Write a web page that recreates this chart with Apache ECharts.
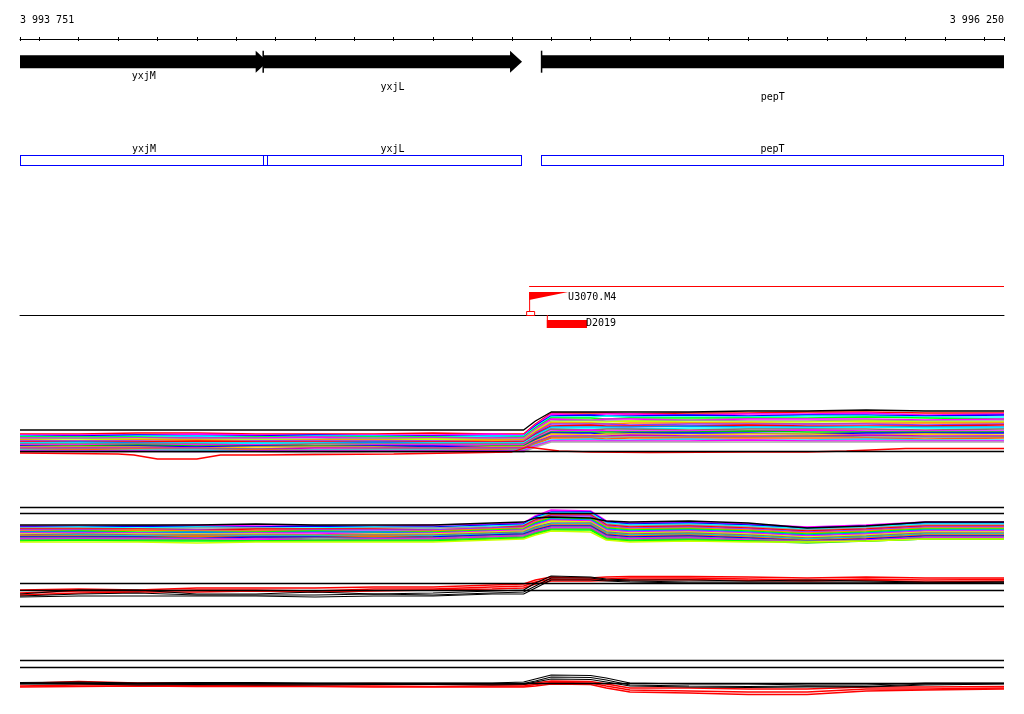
<!DOCTYPE html>
<html><head><meta charset="utf-8">
<script src="https://cdn.jsdelivr.net/npm/echarts@6/dist/echarts.min.js"></script>
<style>html,body{margin:0;padding:0;background:#fff}#c{width:1024px;height:714px}</style>
</head><body><div id="c"></div>
<script>
// ---------- view & ruler ----------
const VIEW_MIN = 3993751, VIEW_MAX = 3996250;
const rulerLabelValues = [3993751, 3996250];
const rulerTickStep = 100;

// ---------- genes ----------
const geneNames  = ['yxjM', 'yxjL', 'pepT'];
const geneStarts = [3993420, 3994368, 3995075];
const geneEnds   = [3994380, 3995026, 3996700];

// ---------- features (flags) ----------
const flagNames   = ['U3070.M4', 'D2019'];
const flagStarts  = [3995044, 3995089];
const flagEnds    = [3995143, 3995191];
const flagStrands = ['+', '-'];
const regionStart = 3995044, regionEnd = 3996250;

// ---------- probe positions ----------
const probePos = [3993751,3993900,3994050,3994200,3994350,3994500,3994650,3994800,3994950,3995030,3995060,3995100,3995200,3995240,3995300,3995450,3995600,3995750,3995900,3996050,3996250];

// ---------- track 1 ----------
const T1_top = [11.0,11.0,11.0,11.0,11.0,11.0,11.0,11.0,11.0,11.0,11.9,12.8,12.8,12.8,12.8,12.8,12.9,12.9,13.0,12.9,12.9];
const T1_01 = [10.6,10.6,10.7,10.7,10.6,10.6,10.6,10.7,10.6,10.6,11.6,12.7,12.7,12.7,12.6,12.7,12.7,12.8,12.8,12.7,12.7];
const T1_02 = [10.5,10.5,10.5,10.6,10.5,10.5,10.5,10.5,10.6,10.5,11.5,12.6,12.5,12.6,12.6,12.5,12.6,12.6,12.7,12.5,12.6];
const T1_03 = [10.4,10.4,10.5,10.4,10.4,10.5,10.4,10.4,10.4,10.4,11.4,12.4,12.5,12.4,12.4,12.5,12.4,12.5,12.5,12.4,12.5];
const T1_04 = [10.4,10.3,10.4,10.4,10.3,10.4,10.4,10.3,10.4,10.4,11.3,12.3,12.3,12.4,12.3,12.3,12.3,12.4,12.4,12.3,12.3];
const T1_05 = [10.3,10.3,10.3,10.2,10.3,10.3,10.3,10.3,10.2,10.3,11.2,12.2,12.2,12.1,12.2,12.2,12.2,12.2,12.3,12.2,12.1];
const T1_06 = [10.2,10.2,10.2,10.2,10.2,10.3,10.2,10.2,10.2,10.2,11.1,12.1,12.0,12.1,12.1,12.0,12.1,12.1,12.1,12.0,12.1];
const T1_07 = [10.1,10.2,10.1,10.1,10.1,10.1,10.2,10.1,10.1,10.1,11.0,11.9,12.0,11.9,11.9,12.0,11.9,11.9,12.0,11.9,11.9];
const T1_08 = [10.0,10.0,10.1,10.0,10.0,10.0,10.0,10.1,10.0,10.0,10.9,11.8,11.8,11.8,11.9,11.8,11.8,11.8,11.9,11.8,11.8];
const T1_09 = [10.0,9.9,10.0,10.0,9.9,10.0,10.0,9.9,10.0,10.0,10.8,11.7,11.7,11.6,11.7,11.7,11.7,11.6,11.7,11.7,11.7];
const T1_10 = [9.9,9.9,9.9,9.8,9.9,9.9,9.9,9.9,9.8,9.9,10.7,11.6,11.6,11.6,11.5,11.6,11.6,11.6,11.6,11.5,11.6];
const T1_11 = [9.8,9.8,9.8,9.9,9.8,9.8,9.8,9.8,9.8,9.8,10.6,11.4,11.5,11.4,11.4,11.4,11.5,11.4,11.4,11.4,11.5];
const T1_12 = [9.7,9.8,9.7,9.7,9.7,9.7,9.8,9.7,9.7,9.7,10.5,11.3,11.3,11.3,11.3,11.4,11.3,11.3,11.3,11.3,11.3];
const T1_13 = [9.7,9.7,9.6,9.7,9.7,9.7,9.6,9.7,9.7,9.7,10.4,11.2,11.2,11.2,11.1,11.2,11.2,11.2,11.3,11.2,11.2];
const T1_14 = [9.6,9.6,9.6,9.6,9.5,9.6,9.6,9.6,9.6,9.6,10.3,11.1,11.0,11.1,11.1,11.0,11.1,11.1,11.1,11.0,11.1];
const T1_15 = [9.5,9.5,9.5,9.5,9.5,9.4,9.5,9.5,9.5,9.5,10.2,10.9,11.0,10.9,10.9,10.9,10.9,11.0,10.9,10.9,10.9];
const T1_16 = [9.4,9.4,9.5,9.4,9.4,9.4,9.4,9.3,9.4,9.4,10.1,10.8,10.8,10.8,10.8,10.8,10.9,10.8,10.8,10.8,10.8];
const T1_17 = [9.4,9.3,9.4,9.3,9.4,9.3,9.4,9.4,9.3,9.3,10.0,10.7,10.7,10.6,10.7,10.7,10.7,10.6,10.7,10.7,10.7];
const T1_18 = [9.3,9.3,9.3,9.2,9.3,9.3,9.3,9.2,9.3,9.3,9.9,10.6,10.5,10.6,10.6,10.5,10.6,10.6,10.5,10.6,10.5];
const T1_19 = [9.2,9.2,9.2,9.2,9.1,9.2,9.2,9.2,9.2,9.2,9.8,10.4,10.4,10.4,10.5,10.4,10.4,10.4,10.5,10.4,10.4];
const T1_20 = [9.1,9.1,9.1,9.1,9.1,9.0,9.1,9.1,9.1,9.1,9.7,10.3,10.3,10.3,10.3,10.3,10.3,10.4,10.3,10.3,10.3];
const T1_21 = [9.0,9.0,9.1,9.0,9.0,9.0,9.0,9.0,9.0,9.0,9.6,10.2,10.2,10.1,10.2,10.2,10.2,10.2,10.2,10.1,10.2];
const T1_22 = [9.0,8.9,9.0,9.0,8.9,9.0,9.0,9.0,8.9,9.0,9.5,10.0,10.1,10.0,10.0,10.1,10.0,10.0,10.1,10.0,10.0];
const T1_23 = [8.9,8.9,8.9,8.8,8.9,8.9,8.9,8.9,8.9,8.9,9.4,9.9,9.9,9.9,9.9,9.9,10.0,9.9,9.9,9.9,9.9];
const T1_24 = [8.8,8.8,8.8,8.8,8.8,8.7,8.8,8.8,8.8,8.8,9.3,9.8,9.8,9.8,9.8,9.8,9.8,9.8,9.8,9.8,9.8];
const T1_lowPos = [3993751,3994000,3994040,3994070,3994100,3994200,3994230,3994260,3994350,3994700,3995000,3995040,3995080,3995120,3995200,3995350,3995600,3995750,3995850,3996000,3996250];
const T1_low = [8.7,8.6,8.5,8.3,8.1,8.1,8.3,8.5,8.5,8.6,8.8,9.3,9.1,8.9,8.8,8.75,8.8,8.8,8.9,9.15,9.15];
const T1_refLines = [8.83];
const T1_colors = ['#ff0000','#ff00ff','#0000ff','#00ffff','#00ff00','#ff00ff','#999999','#ccff00','#ff8800','#9933ff','#ff0000','#0088ff','#00ffff','#996666','#ff00ff','#00cc00','#0000ff','#ffcc00','#cc00cc','#808080','#ff6600','#33ccff','#ff00ff','#aaaaaa'];

// ---------- track 2 ----------
const T2_black = [9.5,9.5,9.5,9.5,9.6,9.5,9.5,9.5,9.7,9.8,10.2,10.3,10.2,9.9,9.8,9.9,9.7,9.2,9.4,9.8,9.8];
const T2_01 = [9.4,9.4,9.4,9.5,9.4,9.4,9.4,9.5,9.6,9.7,10.4,11.0,10.9,9.9,9.7,9.8,9.6,9.3,9.5,9.8,9.8];
const T2_02 = [9.3,9.3,9.4,9.3,9.3,9.4,9.3,9.3,9.5,9.6,10.3,10.8,10.8,9.8,9.6,9.7,9.5,9.2,9.4,9.7,9.7];
const T2_03 = [9.2,9.3,9.2,9.3,9.2,9.2,9.3,9.2,9.4,9.5,10.2,10.7,10.7,9.7,9.5,9.6,9.4,9.1,9.3,9.6,9.6];
const T2_04 = [9.2,9.2,9.1,9.2,9.2,9.1,9.2,9.2,9.3,9.4,10.1,10.6,10.6,9.6,9.4,9.5,9.3,9.0,9.2,9.5,9.5];
const T2_05 = [9.1,9.1,9.1,9.0,9.1,9.1,9.1,9.0,9.2,9.4,10.0,10.5,10.5,9.5,9.3,9.4,9.2,8.9,9.1,9.4,9.4];
const T2_06 = [9.0,9.0,9.0,9.0,8.9,9.0,9.0,9.0,9.2,9.3,9.9,10.4,10.4,9.4,9.2,9.3,9.1,8.8,9.0,9.3,9.3];
const T2_07 = [8.9,8.9,9.0,8.9,8.9,8.9,8.8,8.9,9.1,9.2,9.8,10.3,10.2,9.3,9.1,9.2,9.0,8.7,8.9,9.2,9.2];
const T2_08 = [8.8,8.9,8.8,8.8,8.8,8.9,8.8,8.8,9.0,9.1,9.7,10.2,10.1,9.2,9.0,9.1,8.9,8.6,8.8,9.1,9.1];
const T2_09 = [8.8,8.8,8.7,8.8,8.7,8.8,8.8,8.7,8.9,9.0,9.6,10.1,10.0,9.1,8.9,9.0,8.8,8.5,8.7,9.0,9.0];
const T2_10 = [8.7,8.7,8.7,8.6,8.7,8.7,8.6,8.7,8.9,9.0,9.5,10.0,9.9,9.0,8.8,8.9,8.7,8.4,8.6,8.9,8.9];
const T2_11 = [8.6,8.6,8.6,8.6,8.6,8.5,8.6,8.6,8.8,8.9,9.4,9.9,9.8,8.9,8.7,8.8,8.6,8.3,8.5,8.8,8.8];
const T2_12 = [8.5,8.6,8.5,8.5,8.5,8.5,8.5,8.5,8.7,8.8,9.3,9.7,9.7,8.8,8.6,8.7,8.5,8.2,8.4,8.7,8.7];
const T2_13 = [8.4,8.5,8.4,8.4,8.4,8.4,8.4,8.4,8.6,8.7,9.2,9.6,9.6,8.7,8.5,8.6,8.4,8.1,8.3,8.6,8.6];
const T2_14 = [8.4,8.4,8.3,8.4,8.3,8.3,8.4,8.3,8.5,8.6,9.1,9.5,9.5,8.6,8.4,8.5,8.3,8.0,8.2,8.5,8.5];
const T2_15 = [8.3,8.3,8.3,8.2,8.3,8.3,8.2,8.3,8.5,8.6,9.0,9.4,9.4,8.5,8.3,8.4,8.2,7.9,8.1,8.4,8.4];
const T2_16 = [8.2,8.2,8.2,8.2,8.1,8.2,8.2,8.2,8.4,8.5,8.9,9.3,9.3,8.4,8.2,8.3,8.1,7.9,8.0,8.3,8.3];
const T2_17 = [8.1,8.1,8.1,8.1,8.1,8.0,8.1,8.1,8.3,8.4,8.8,9.2,9.2,8.3,8.1,8.2,8.0,7.8,8.0,8.2,8.2];
const T2_18 = [8.0,8.0,8.0,8.0,7.9,8.0,8.0,8.0,8.2,8.3,8.7,9.1,9.1,8.2,8.0,8.1,7.9,7.7,7.9,8.1,8.1];
const T2_19 = [7.9,8.0,7.9,7.9,7.9,7.9,7.9,7.9,8.1,8.2,8.6,9.0,9.0,8.1,7.9,8.0,7.9,7.8,7.9,8.1,8.1];
const T2_20 = [7.8,7.8,7.8,7.7,7.8,7.8,7.8,7.8,8.0,8.1,8.5,8.9,8.8,8.0,7.8,7.9,7.8,7.8,7.9,8.1,8.1];
const T2_refLines = [11.27, 10.67];
const T2_colors = ['#ff00ff','#0000ff','#00ffff','#999999','#ff0000','#9933ff','#ff8800','#00ff00','#0088ff','#ff00ff','#ccff00','#996666','#00cccc','#ff6600','#0000ff','#808080','#ff00ff','#33cc33','#00ff00','#ccff00'];

// ---------- track 2b ----------
const T2b_red1 = [9.0,9.1,9.0,9.2,9.2,9.2,9.3,9.3,9.5,9.6,10.0,10.3,10.2,10.3,10.35,10.35,10.3,10.2,10.3,10.2,10.2];
const T2b_red2 = [8.7,8.9,8.9,9.0,9.0,8.9,9.1,9.1,9.3,9.4,9.8,10.1,10.05,10.1,10.2,10.2,10.1,10.0,10.1,10.0,10.05];
const T2b_red3 = [8.5,8.7,8.8,8.8,8.9,8.8,8.9,9.0,9.1,9.2,9.6,9.9,9.9,9.95,10.0,10.05,9.95,9.9,10.0,9.8,9.9];
const T2b_blk1 = [8.6,9.0,9.0,8.6,8.6,8.8,8.6,8.7,8.9,9.0,9.7,10.4,10.3,10.1,10.0,10.0,9.9,10.0,9.9,9.8,9.8];
const T2b_blk2 = [8.4,8.6,8.7,8.5,8.5,8.5,8.6,8.5,8.7,8.8,9.4,10.2,10.2,10.0,9.9,9.8,9.8,9.8,9.8,9.7,9.8];
const T2b_blk3 = [8.3,8.4,8.4,8.4,8.4,8.3,8.4,8.4,8.6,8.6,9.2,10.0,10.0,9.9,9.8,9.7,9.7,9.7,9.7,9.7,9.7];
const T2b_refLines = [9.67, 8.97, 7.4];

// ---------- track 3 ----------
const T3_blk1 = [8.75,8.8,8.7,8.75,8.75,8.7,8.7,8.7,8.7,8.8,9.1,9.5,9.45,9.2,8.7,8.6,8.6,8.5,8.5,8.7,8.7];
const T3_blk2 = [8.65,8.7,8.6,8.6,8.6,8.6,8.6,8.6,8.6,8.65,8.9,9.3,9.25,9.0,8.5,8.4,8.35,8.4,8.35,8.6,8.65];
const T3_blk3 = [8.6,8.6,8.5,8.55,8.5,8.5,8.55,8.55,8.5,8.55,8.8,9.1,9.05,8.8,8.4,8.3,8.25,8.3,8.3,8.5,8.6];
const T3_red1 = [8.65,8.85,8.7,8.7,8.6,8.6,8.65,8.6,8.55,8.55,8.7,8.9,8.85,8.6,8.2,8.2,8.1,8.1,8.3,8.3,8.35];
const T3_red2 = [8.4,8.5,8.5,8.45,8.45,8.4,8.4,8.35,8.4,8.4,8.55,8.75,8.7,8.4,8.0,7.9,7.8,7.8,8.1,8.1,8.2];
const T3_red3 = [8.3,8.35,8.4,8.35,8.35,8.35,8.3,8.3,8.3,8.3,8.4,8.6,8.55,8.2,7.8,7.7,7.55,7.55,7.9,8.0,8.1];
const T3_refLines = [10.97, 10.27, 8.67];

// ---------- build ----------
const FONT = '"DejaVu Sans Mono", monospace';
const BOX_BLUE = '#0000ff';
const rulerTicks = [VIEW_MIN];
for (let v = Math.ceil(VIEW_MIN / rulerTickStep) * rulerTickStep; v < VIEW_MAX; v += rulerTickStep) rulerTicks.push(v);
rulerTicks.push(VIEW_MAX);
const fmtPos = v => String(v).replace(/\B(?=(\d{3})+(?!\d))/g, ' ');

const GL = 20, GR = 20;
const grids = [
  {left: GL, right: GR, top: 38, height: 1},     // 0 ruler
  {left: GL, right: GR, top: 38, height: 47.4},  // 1 gene arrows
  {left: GL, right: GR, top: 155, height: 11},   // 2 gene boxes
  {left: GL, right: GR, top: 285, height: 60},   // 3 features
  {left: GL, right: GR, top: 400, height: 70},   // 4 track 1
  {left: GL, right: GR, top: 500, height: 50},   // 5 track 2
  {left: GL, right: GR, top: 570, height: 40},   // 6 track 2b
  {left: GL, right: GR, top: 650, height: 50}    // 7 track 3
];
const hiddenX = g => ({type: 'value', gridIndex: g, min: VIEW_MIN, max: VIEW_MAX, show: false});
const xAxes = [
  {type: 'value', gridIndex: 0, position: 'top', min: VIEW_MIN, max: VIEW_MAX,
   axisLine: {show: true, lineStyle: {color: '#000', width: 1}},
   axisTick: {show: true, length: 2, inside: false, customValues: rulerTicks, lineStyle: {color: '#000', width: 1}},
   axisLabel: {show: true, customValues: rulerLabelValues, formatter: v => fmtPos(v), color: '#000',
     fontFamily: FONT, fontSize: 10, margin: 13, alignMinLabel: 'left', alignMaxLabel: 'right'},
   splitLine: {show: false}},
  {type: 'value', gridIndex: 0, position: 'bottom', min: VIEW_MIN, max: VIEW_MAX,
   axisLine: {show: false},
   axisTick: {show: true, length: 2, inside: false, customValues: rulerTicks, lineStyle: {color: '#000', width: 1}},
   axisLabel: {show: false}, splitLine: {show: false}},
  hiddenX(1), hiddenX(2),
  {type: 'value', gridIndex: 3, min: VIEW_MIN, max: VIEW_MAX, show: true,
   axisLine: {show: true, onZero: true, lineStyle: {color: '#000', width: 1}},
   axisTick: {show: false}, axisLabel: {show: false}, splitLine: {show: false}},
  hiddenX(4), hiddenX(5), hiddenX(6), hiddenX(7)
];
const yRange = [[0,1],[-1,1],[0,1],[-1,1],[7,14],[7,12],[7,11],[7,12]];
const yAxes = yRange.map((r, g) => ({type: 'value', gridIndex: g, min: r[0], max: r[1], show: false, splitLine: {show: false}}));

const series = [];

// gene arrows
series.push({
  type: 'custom', xAxisIndex: 2, yAxisIndex: 1, silent: true, animation: false,
  data: geneNames.map((n, i) => [geneStarts[i], geneEnds[i], i]),
  renderItem(params, api) {
    const i = api.value(2);
    const a = api.coord([api.value(0), 0]), b = api.coord([api.value(1), 0]);
    const cs = params.coordSys, L = cs.x, R = cs.x + cs.width;
    const x0 = Math.max(a[0], L), x1 = Math.min(b[0], R), cy = a[1];
    const hl = 12, bh = 6.5, hh = 11;
    const ch = [];
    if (b[0] <= R + 0.5) {
      ch.push({type: 'polygon', shape: {points: [[x0, cy - bh], [x1 - hl, cy - bh], [x1 - hl, cy - hh], [x1, cy], [x1 - hl, cy + hh], [x1 - hl, cy + bh], [x0, cy + bh]]}, style: {fill: '#000'}});
    } else {
      ch.push({type: 'rect', shape: {x: x0, y: cy - bh, width: x1 - x0, height: 2 * bh}, style: {fill: '#000'}});
    }
    if (a[0] >= L - 0.5) ch.push({type: 'rect', shape: {x: a[0] - 0.5, y: cy - hh, width: 1.5, height: 2 * hh}, style: {fill: '#000'}});
    ch.push({type: 'text', style: {text: geneNames[i], x: (x0 + x1) / 2, y: cy + 15 + i * 10.5, align: 'center', verticalAlign: 'middle', fill: '#000', font: '10px ' + FONT}});
    return {type: 'group', children: ch};
  }
});

// gene boxes: four blue edges per gene, as filled 1px rects
series.push({
  type: 'custom', xAxisIndex: 3, yAxisIndex: 2, silent: true, animation: false,
  itemStyle: {color: BOX_BLUE},
  data: geneNames.map((n, i) => [geneStarts[i], geneEnds[i], i]),
  renderItem(params, api) {
    const i = api.value(2);
    const a = api.coord([api.value(0), 1]), b = api.coord([api.value(1), 0]);
    const cs = params.coordSys, L = cs.x, R = cs.x + cs.width;
    const x0 = Math.round(Math.max(a[0], L)), x1 = Math.round(Math.min(b[0], R));
    const y0 = Math.round(a[1]), y1 = Math.round(b[1]);
    const f = {fill: BOX_BLUE};
    return {type: 'group', children: [
      {type: 'rect', shape: {x: x0, y: y0, width: x1 - x0, height: 1}, style: f},
      {type: 'rect', shape: {x: x0, y: y1 - 1, width: x1 - x0, height: 1}, style: f},
      {type: 'rect', shape: {x: x0, y: y0, width: 1, height: y1 - y0}, style: f},
      {type: 'rect', shape: {x: x1 - 1, y: y0, width: 1, height: y1 - y0}, style: f},
      {type: 'text', style: {text: geneNames[i], x: (x0 + x1) / 2, y: a[1] - 5.5, align: 'center', verticalAlign: 'middle', fill: '#000', font: '10px ' + FONT}}
    ]};
  }
});

// region line
series.push({
  type: 'custom', xAxisIndex: 4, yAxisIndex: 3, silent: true, animation: false,
  data: [[regionStart, regionEnd]],
  renderItem(params, api) {
    const a = api.coord([api.value(0), 0]), b = api.coord([api.value(1), 0]);
    return {type: 'rect', shape: {x: a[0], y: a[1] - 29, width: b[0] - a[0], height: 1}, style: {fill: '#ff0000'}};
  }
});

// flags
series.push({
  type: 'custom', xAxisIndex: 4, yAxisIndex: 3, silent: true, animation: false, z: 3,
  data: flagNames.map((n, i) => [flagStarts[i], flagEnds[i], i]),
  renderItem(params, api) {
    const i = api.value(2);
    const a = api.coord([api.value(0), 0]), b = api.coord([api.value(1), 0]);
    const p = a[0], pe = b[0], cy = a[1];
    const red = '#ff0000';
    if (flagStrands[i] === '+') {
      return {type: 'group', children: [
        {type: 'polygon', shape: {points: [[p, cy - 23], [pe, cy - 23], [p, cy - 15]]}, style: {fill: red}},
        {type: 'rect', shape: {x: p, y: cy - 23, width: 1, height: 20}, style: {fill: red}},
        {type: 'rect', shape: {x: p - 2.5, y: cy - 3.5, width: 8, height: 4}, style: {fill: 'rgba(0,0,0,0)', stroke: red, lineWidth: 1}},
        {type: 'text', style: {text: flagNames[i], x: pe, y: cy - 17.5, align: 'left', verticalAlign: 'middle', fill: '#000', font: '10px ' + FONT}}
      ]};
    }
    return {type: 'group', children: [
      {type: 'rect', shape: {x: p, y: cy, width: 1, height: 13}, style: {fill: red}},
      {type: 'rect', shape: {x: p, y: cy + 5, width: pe - p, height: 8}, style: {fill: red}},
      {type: 'text', style: {text: flagNames[i], x: pe - 1, y: cy + 8.5, align: 'left', verticalAlign: 'middle', fill: '#000', font: '10px ' + FONT}}
    ]};
  }
});

function lineSeries(ax, pos, vals, color, width, refLines) {
  const s = {
    type: 'line', xAxisIndex: ax, yAxisIndex: ax - 1, silent: true, animation: false,
    symbol: 'none', showSymbol: false, clip: true,
    data: pos.map((x, i) => [x, vals[i]]),
    lineStyle: {color: color, width: width}
  };
  if (refLines) {
    s.markLine = {silent: true, symbol: 'none', animation: false, label: {show: false},
      lineStyle: {color: '#000', width: 1.3, type: 'solid'},
      data: refLines.map(v => ({yAxis: v}))};
  }
  return s;
}

// track 1
const T1_lines = [T1_01,T1_02,T1_03,T1_04,T1_05,T1_06,T1_07,T1_08,T1_09,T1_10,T1_11,T1_12,T1_13,T1_14,T1_15,T1_16,T1_17,T1_18,T1_19,T1_20,T1_21,T1_22,T1_23,T1_24];
T1_lines.forEach((v, k) => series.push(lineSeries(5, probePos, v, T1_colors[k], 1.5)));
series.push(lineSeries(5, T1_lowPos, T1_low, '#ff0000', 1.3));
series.push(lineSeries(5, probePos, T1_top, '#000000', 1.4, T1_refLines));

// track 2
const T2_lines = [T2_01,T2_02,T2_03,T2_04,T2_05,T2_06,T2_07,T2_08,T2_09,T2_10,T2_11,T2_12,T2_13,T2_14,T2_15,T2_16,T2_17,T2_18,T2_19,T2_20];
T2_lines.forEach((v, k) => series.push(lineSeries(6, probePos, v, T2_colors[k], 1.5)));
series.push(lineSeries(6, probePos, T2_black, '#000000', 1.3, T2_refLines));

// track 2b
[T2b_red1, T2b_red2, T2b_red3].forEach(v => series.push(lineSeries(7, probePos, v, '#ff0000', 1.4)));
[T2b_blk1, T2b_blk2].forEach(v => series.push(lineSeries(7, probePos, v, '#000000', 1.2)));
series.push(lineSeries(7, probePos, T2b_blk3, '#000000', 1.2, T2b_refLines));

// track 3
[T3_red1, T3_red2, T3_red3].forEach(v => series.push(lineSeries(8, probePos, v, '#ff0000', 1.4)));
[T3_blk1, T3_blk2].forEach(v => series.push(lineSeries(8, probePos, v, '#000000', 1.2)));
series.push(lineSeries(8, probePos, T3_blk3, '#000000', 1.2, T3_refLines));

const chart = echarts.init(document.getElementById('c'), null, {renderer: 'canvas'});
chart.setOption({
  backgroundColor: '#ffffff',
  animation: false,
  grid: grids,
  xAxis: xAxes,
  yAxis: yAxes,
  series: series
});
</script>
</body></html>
